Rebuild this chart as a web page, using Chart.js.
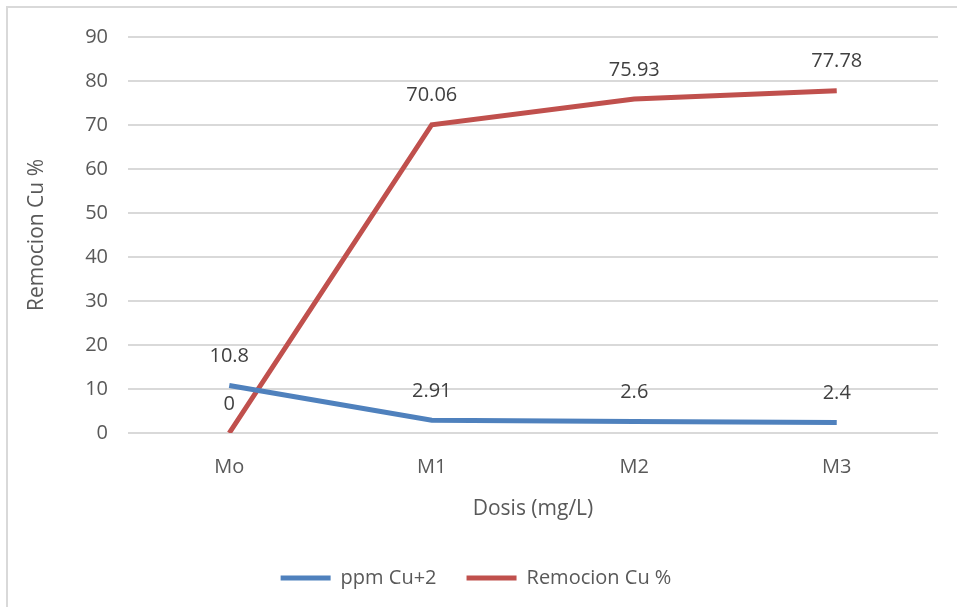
<!DOCTYPE html>
<html>
<head>
<meta charset="utf-8">
<script src="https://cdn.jsdelivr.net/npm/chart.js@4/dist/chart.umd.min.js"></script>
<style>
  html, body { margin: 0; padding: 0; background: #ffffff; overflow: hidden; }
  #frame { position: absolute; left: 6px; top: 6px; width: 1000px; height: 700px; border: 2px solid #d9d9d9; box-sizing: border-box; }
  #wrap { position: absolute; left: 0; top: 0; width: 957px; height: 598px; }
</style>
</head>
<body>
<div id="frame"></div>
<div id="wrap"><canvas id="c" width="957" height="598"></canvas></div>
<script>
const categories = ["Mo", "M1", "M2", "M3"];
const ppmCu = [10.8, 2.91, 2.6, 2.4];
const remocionCu = [0, 70.06, 75.93, 77.78];
const seriesNames = ["ppm Cu+2", "Remocion Cu %"];
const yTicks = [0, 10, 20, 30, 40, 50, 60, 70, 80, 90];

const FONT = "'Open Sans', 'Liberation Sans', sans-serif";
const TXT = "#595959";
const BLUE = "#4F81BD";
const RED = "#C0504D";

const dataLabels = {
  id: 'dataLabels',
  afterDatasetsDraw(chart) {
    const ctx = chart.ctx;
    ctx.save();
    ctx.font = "20px " + FONT;
    ctx.fillStyle = "#404040";
    ctx.textAlign = "center";
    ctx.textBaseline = "middle";
    chart.data.datasets.forEach((ds, i) => {
      const meta = chart.getDatasetMeta(i);
      meta.data.forEach((pt, j) => {
        ctx.fillText(String(ds.data[j]), pt.x, pt.y - 29);
      });
    });
    ctx.restore();
  }
};

new Chart(document.getElementById('c'), {
  type: 'line',
  data: {
    labels: categories,
    datasets: [
      { label: seriesNames[0], data: ppmCu, borderColor: BLUE, backgroundColor: BLUE, borderWidth: 5, pointRadius: 0, tension: 0 },
      { label: seriesNames[1], data: remocionCu, borderColor: RED, backgroundColor: RED, borderWidth: 5, pointRadius: 0, tension: 0 }
    ]
  },
  options: {
    responsive: false,
    animation: false,
    layout: { padding: { left: 14, right: 19, top: 37, bottom: 0 } },
    plugins: {
      tooltip: { enabled: false },
      legend: {
        position: 'bottom',
        labels: {
          font: { size: 20, family: FONT },
          color: TXT,
          boxWidth: 50,
          boxHeight: 5,
          padding: 30,
          generateLabels(chart) {
            return chart.data.datasets.map((ds, i) => ({
              text: ds.label, fillStyle: ds.borderColor, strokeStyle: ds.borderColor,
              lineWidth: 0, hidden: false, datasetIndex: i, fontColor: TXT
            }));
          }
        }
      }
    },
    scales: {
      x: {
        offset: true,
        grid: { display: false, drawTicks: false },
        border: { display: false },
        ticks: { font: { size: 20, family: FONT }, color: TXT, padding: 22 },
        title: { display: true, text: 'Dosis (mg/L)', font: { size: 21, family: FONT }, color: TXT, padding: { top: 10, bottom: 16 } },
        afterFit(axis) { axis.height = 105; }
      },
      y: {
        min: 0, max: 90,
        afterBuildTicks(axis) { axis.ticks = yTicks.map(v => ({ value: v })); },
        grid: { color: '#d9d9d9', lineWidth: 2, drawTicks: false },
        border: { display: false },
        ticks: { font: { size: 20, family: FONT }, color: TXT, padding: 20 },
        title: { display: true, text: 'Remocion Cu %', font: { size: 21, family: FONT }, color: TXT, padding: { top: 10, bottom: 0 } },
        afterFit(axis) { axis.width = 114; }
      }
    }
  },
  plugins: [dataLabels]
});
</script>
</body>
</html>
